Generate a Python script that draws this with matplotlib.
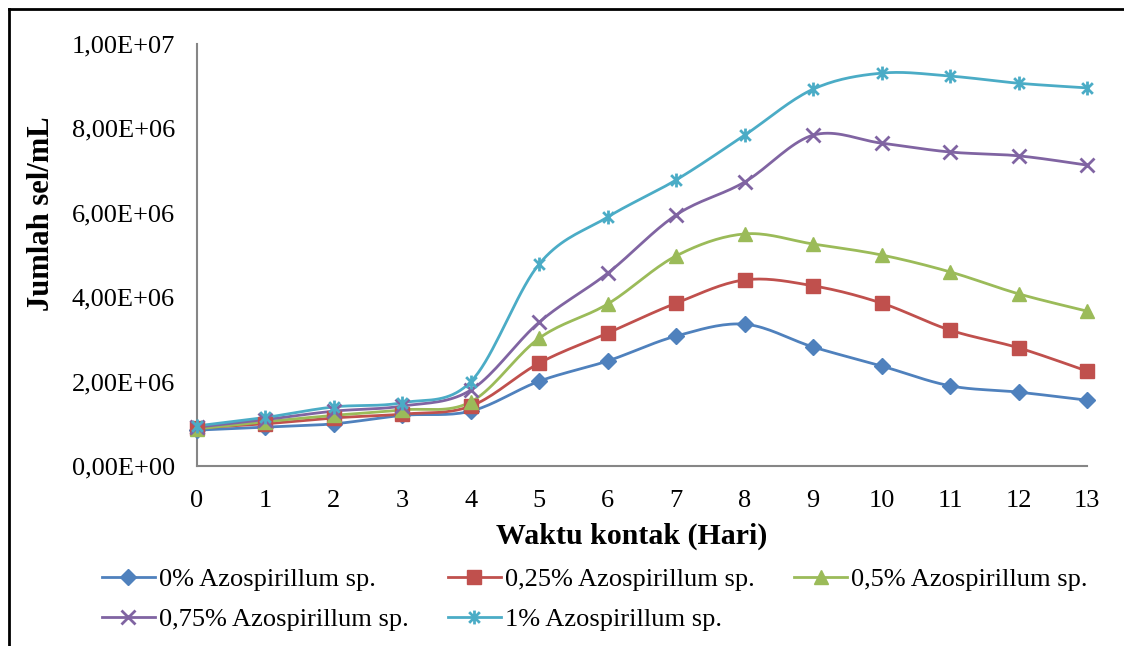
import numpy as np
import matplotlib
matplotlib.use("Agg")
import matplotlib.pyplot as plt
from matplotlib.path import Path
from matplotlib.lines import Line2D
from matplotlib.ticker import FuncFormatter

plt.rcParams['font.family'] = ['Liberation Serif', 'DejaVu Serif']

hari = np.arange(0, 14)
labels = ['0% Azospirillum sp.', '0,25% Azospirillum sp.', '0,5% Azospirillum sp.',
          '0,75% Azospirillum sp.', '1% Azospirillum sp.']
c0 = [0.85, 0.92, 1.00, 1.20, 1.30, 2.01, 2.49, 3.08, 3.36, 2.82, 2.37, 1.90, 1.75, 1.56]
c025 = [0.90, 1.00, 1.14, 1.23, 1.42, 2.44, 3.15, 3.86, 4.41, 4.27, 3.86, 3.22, 2.80, 2.25]
c05 = [0.88, 1.05, 1.20, 1.33, 1.52, 3.03, 3.84, 4.98, 5.50, 5.26, 5.00, 4.60, 4.08, 3.67]
c075 = [0.92, 1.10, 1.30, 1.42, 1.80, 3.41, 4.57, 5.95, 6.73, 7.84, 7.65, 7.44, 7.35, 7.13]
c1 = [0.95, 1.15, 1.40, 1.50, 2.00, 4.79, 5.90, 6.78, 7.84, 8.93, 9.31, 9.24, 9.07, 8.96]
series = [c0, c025, c05, c075, c1]

colors = ['#4F81BD', '#C0504D', '#9BBB59', '#8064A2', '#4BACC6']

# excel-like star marker (x with a vertical bar)
star = Path([(-1, -1), (1, 1), (-1, 1), (1, -1), (0, -1.3), (0, 1.3)],
            [Path.MOVETO, Path.LINETO, Path.MOVETO, Path.LINETO, Path.MOVETO, Path.LINETO])
markers = ['D', 's', '^', 'x', star]
msizes = [8, 10, 10, 10, 10]
mews = [1, 1, 1, 2, 2]


def smooth(x, y, n=20):
    # catmull-rom style bezier, like excel's smoothed line
    x = np.asarray(x, float)
    y = np.asarray(y, float)
    xs, ys = [], []
    t = np.linspace(0, 1, n)
    for i in range(len(x) - 1):
        p0 = np.array([x[max(i - 1, 0)], y[max(i - 1, 0)]])
        p1 = np.array([x[i], y[i]])
        p2 = np.array([x[i + 1], y[i + 1]])
        p3 = np.array([x[min(i + 2, len(x) - 1)], y[min(i + 2, len(x) - 1)]])
        b1 = p1 + (p2 - p0) / 6
        b2 = p2 - (p3 - p1) / 6
        pts = (((1 - t) ** 3)[:, None] * p1 + (3 * (1 - t) ** 2 * t)[:, None] * b1
               + (3 * (1 - t) * t ** 2)[:, None] * b2 + (t ** 3)[:, None] * p2)
        xs.extend(pts[:, 0])
        ys.extend(pts[:, 1])
    return np.array(xs), np.array(ys)


fig = plt.figure(figsize=(11.24, 6.46), dpi=100)
ax = fig.add_axes([197 / 1124, 180 / 646, 890 / 1124, 422 / 646])

handles = []
for vals, lab, col, mk, ms, mw in zip(series, labels, colors, markers, msizes, mews):
    v = np.array(vals) * 1e6
    sx, sy = smooth(hari, v)
    ax.plot(sx, sy, color=col, lw=2, zorder=2)
    ax.plot(hari, v, ls='none', marker=mk, ms=ms, color=col,
            mec=col, mew=mw, zorder=3, clip_on=False)
    handles.append(Line2D([], [], color=col, lw=2, marker=mk, ms=ms, mec=col, mew=mw))

ax.set_xlim(0, 13)
ax.set_ylim(0, 1e7)
ax.set_xticks(hari)
ax.set_yticks(np.arange(0, 1.01e7, 2e6))
ax.yaxis.set_major_formatter(FuncFormatter(lambda v, p: f"{v:.2E}".replace('.', ',')))
ax.tick_params(length=0, labelsize=19)
ax.tick_params(axis='y', pad=16)
ax.tick_params(axis='x', pad=17)
for s in ['top', 'right']:
    ax.spines[s].set_visible(False)
for s in ['left', 'bottom']:
    ax.spines[s].set_color('#868686')
    ax.spines[s].set_linewidth(1.5)

ax.set_xlabel('Waktu kontak (Hari)', fontsize=21.5, fontweight='bold')
ax.set_ylabel('Jumlah sel/mL', fontsize=22, fontweight='bold')
ax.xaxis.set_label_coords(0.488, -0.135)
ax.yaxis.set_label_coords(-0.158, 0.597)

# legend filled row by row like excel
order = [0, 3, 1, 4, 2]
fig.legend([handles[i] for i in order], [labels[i] for i in order],
           loc='upper left', bbox_to_anchor=(102 / 1124, 1 - 568 / 646),
           ncol=3, frameon=False, fontsize=19, handlelength=2.0, handletextpad=0.15,
           columnspacing=1.5, labelspacing=0.6, borderpad=0, borderaxespad=0)

# outer frame of the figure
fig.add_artist(Line2D([9 / 1124, 9 / 1124], [0, 1 - 9 / 646], color='black', lw=2))
fig.add_artist(Line2D([9 / 1124, 1], [1 - 9 / 646, 1 - 9 / 646], color='black', lw=2))

fig.savefig('out.png', dpi=100)
